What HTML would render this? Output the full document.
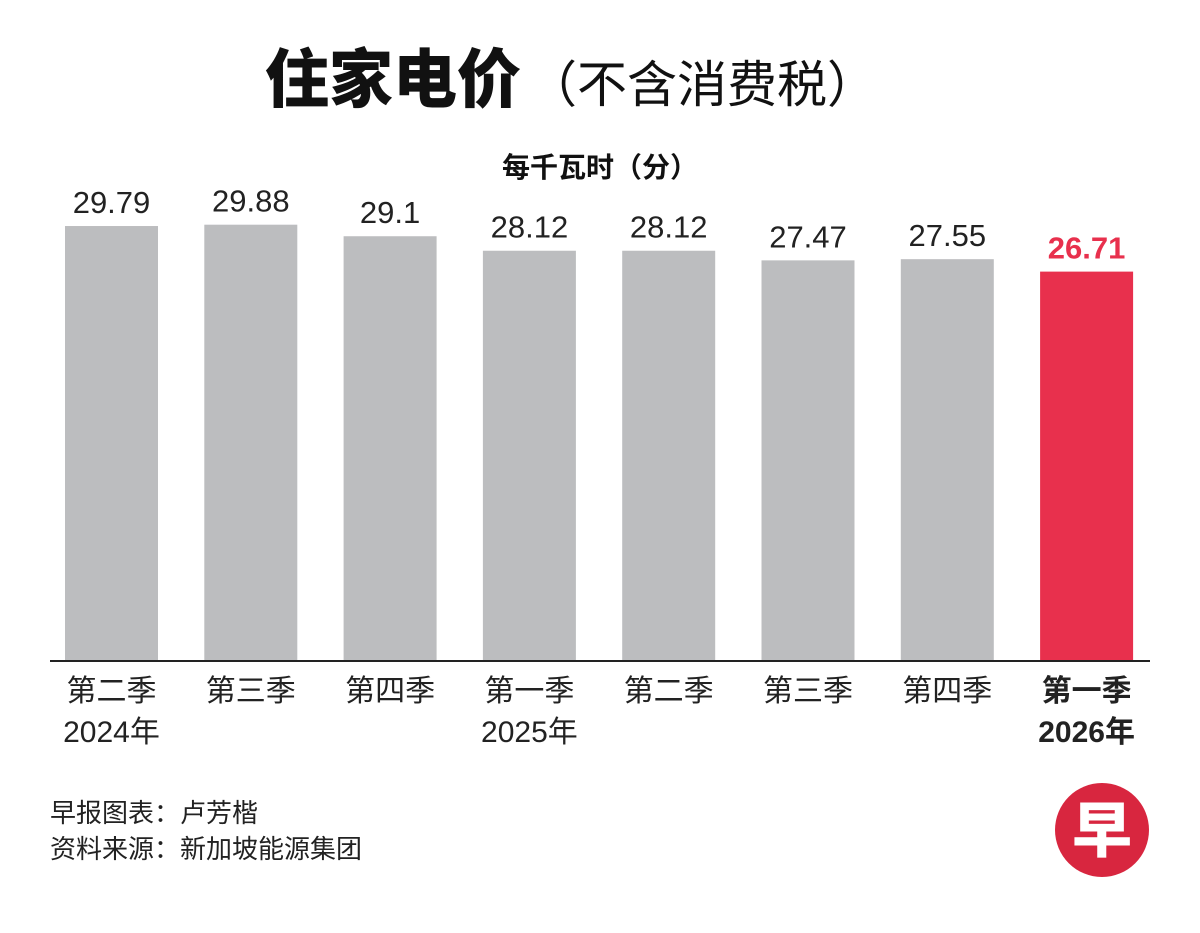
<!DOCTYPE html>
<html><head><meta charset="utf-8"><style>
body{margin:0;background:#fff;width:1200px;height:928px;overflow:hidden;font-family:"Liberation Sans","Noto Sans CJK SC",sans-serif;}
svg text{font-family:"Liberation Sans","Noto Sans CJK SC",sans-serif;}
</style></head><body>
<svg id="chart" width="1200" height="928">
<text x="265" y="102" font-size="64" font-weight="900" fill="#111">住家电价<tspan font-size="50" font-weight="400" dx="6">（不含消费税）</tspan></text>
<text x="600" y="177" font-size="28" font-weight="700" text-anchor="middle" fill="#111">每千瓦时（分）</text>
<g id="bars"></g>
<line x1="50" x2="1150" y1="661" y2="661" stroke="#222" stroke-width="2"/>
<text x="50" y="822" font-size="26" fill="#222">早报图表：卢芳楷</text>
<text x="50" y="858" font-size="26" fill="#222">资料来源：新加坡能源集团</text>
<g>
<circle cx="1102" cy="830" r="47" fill="#d8263f"/>
<text x="1102" y="852" font-size="60" font-weight="900" fill="#fff" text-anchor="middle">早</text>
</g>
</svg>
<script>
const categories=["第二季","第三季","第四季","第一季","第二季","第三季","第四季","第一季"];
const years=["2024年","","","2025年","","","","2026年"];
const values=[29.79,29.88,29.1,28.12,28.12,27.47,27.55,26.71];
const labels=["29.79","29.88","29.1","28.12","28.12","27.47","27.55","26.71"];
const ns="http://www.w3.org/2000/svg";
const g=document.getElementById('bars');
const baseY=661, step=139.3, x0=65, bw=93;
function yScale(v){return baseY-(v-0.4)*14.8;}
function xScale(i){return x0+i*step;}
values.forEach((v,i)=>{
  const hi=i===values.length-1;
  const r=document.createElementNS(ns,'rect');
  r.setAttribute('x',xScale(i));r.setAttribute('y',yScale(v));
  r.setAttribute('width',bw);r.setAttribute('height',baseY-yScale(v));
  r.setAttribute('fill',hi?'#e8304d':'#bcbdbf');
  
  
  g.appendChild(r);
  const t=document.createElementNS(ns,'text');
  t.setAttribute('x',xScale(i)+bw/2);t.setAttribute('y',yScale(v)-13);
  t.setAttribute('text-anchor','middle');t.setAttribute('font-size','31');
  t.setAttribute('fill',hi?'#e8304d':'#222');
  if(hi)t.setAttribute('font-weight','700');
  t.textContent=labels[i];
  
  
  g.appendChild(t);
  const c=document.createElementNS(ns,'text');
  c.setAttribute('x',xScale(i)+bw/2);c.setAttribute('y',701);
  c.setAttribute('text-anchor','middle');c.setAttribute('font-size','30');
  c.setAttribute('fill','#222');if(hi)c.setAttribute('font-weight','700');
  c.textContent=categories[i];
  
  
  g.appendChild(c);
  if(years[i]){
    const y=document.createElementNS(ns,'text');
    y.setAttribute('x',xScale(i)+bw/2);y.setAttribute('y',742);
    y.setAttribute('text-anchor','middle');y.setAttribute('font-size','30');
    y.setAttribute('fill','#222');if(hi)y.setAttribute('font-weight','700');
    y.textContent=years[i];
    
    
    g.appendChild(y);
  }
});
</script>
</body></html>
